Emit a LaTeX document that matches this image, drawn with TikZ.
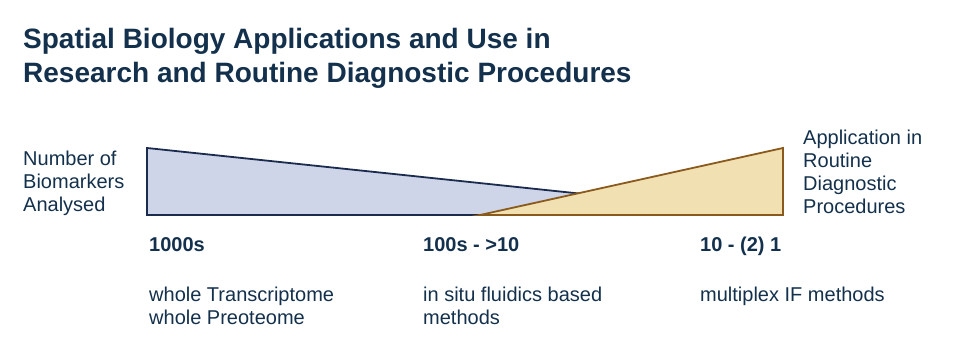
\documentclass[tikz,border=0pt]{standalone}
\usepackage{fontspec}
\setmainfont{Liberation Sans}
\usetikzlibrary{positioning}

\definecolor{navy}{HTML}{13304C}
\definecolor{bluefill}{HTML}{CFD5E8}
\definecolor{blueline}{HTML}{1B2B4D}
\definecolor{tanfill}{HTML}{F1E0B2}
\definecolor{tanline}{HTML}{8A5A1C}

\tikzset{
	lbl/.style={anchor=base west, inner sep=0pt, text=navy, align=left,
		font=\fontsize{20}{23}\selectfont},
	numlbl/.style={lbl, font=\bfseries\fontsize{20}{23}\selectfont},
	methodlbl/.style={lbl, anchor=north west},
	headline/.style={lbl, font=\bfseries\fontsize{28}{34}\selectfont},
	wedge/.style={line width=1.8pt, line join=miter},
}

\begin{document}
\begin{tikzpicture}[x=1pt,y=-1pt]
	\useasboundingbox (0,0) rectangle (980,361);
	% title (base = last line)
	\node[headline] (title) at (23,82)
		{Spatial Biology Applications and Use in\\Research and Routine Diagnostic Procedures};
	% the two wedges
	\coordinate (b-top) at (147,148);
	\coordinate (b-low) at (147,215);
	\coordinate (b-tip) at (783,215);
	\coordinate (t-tip) at (480,215);
	\coordinate (t-top) at (783,148);
	\draw[wedge, blueline, fill=bluefill] (b-top) -- (b-low) -- (b-tip) -- cycle;
	\draw[wedge, tanline, fill=tanfill] (t-tip) -- (t-top) -- (b-tip) -- cycle;
	% axis labels
	\node[lbl] (biomarkers) at (23,211) {Number of\\Biomarkers\\Analysed};
	\node[lbl] (routine) at (803,213) {Application in\\Routine\\Diagnostic\\Procedures};
	% columns below
	\foreach \x/\num/\txt [count=\i] in {
		149/{1000s}/{whole Transcriptome\\whole Preoteome},
		423/{100s - >10}/{in situ fluidics based\\methods},
		700/{10 - (2) 1}/{multiplex IF methods}}
	{
		\node[numlbl] (num-\i) at (\x,251) {\num};
		\node[methodlbl] (method-\i) at (\x,286.5) {\txt};
	}
\end{tikzpicture}
\end{document}
